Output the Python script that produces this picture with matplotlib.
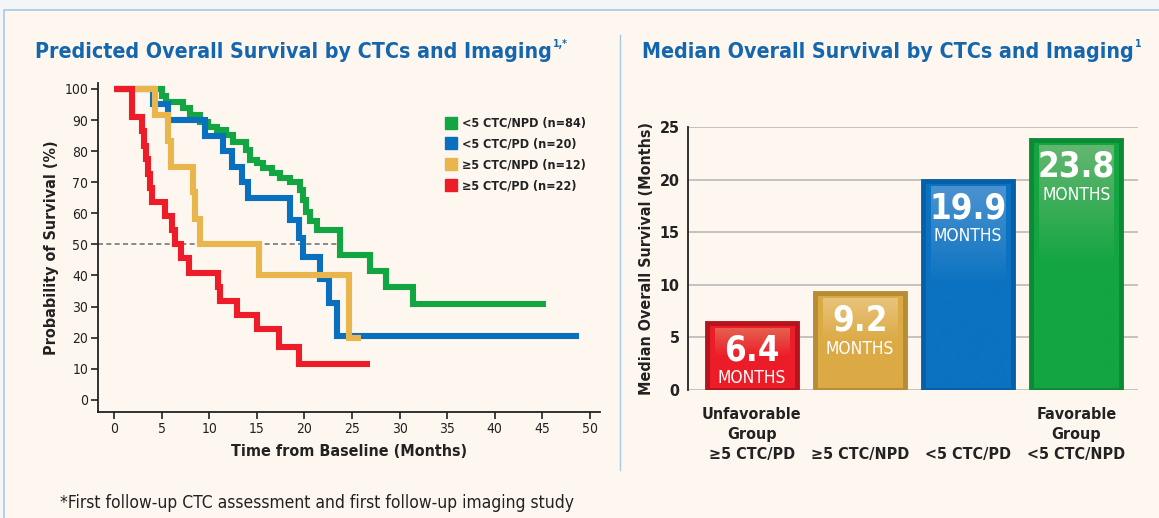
import matplotlib

matplotlib.use("Agg")

import matplotlib.pyplot as plt
import numpy as np
from matplotlib.lines import Line2D
from matplotlib.patches import Rectangle

# Kaplan-Meier steps: (time in months, survival %)
green_t = [0, 5.0, 5.5, 7.3, 8.0, 9.0, 9.9, 10.8, 11.8, 12.5, 13.9, 14.3, 15.0, 15.7, 16.6,
           17.4, 18.5, 19.5, 19.9, 20.2, 20.6, 21.3, 23.7, 26.9, 28.6, 31.4]
green_s = [100, 97.6, 95.9, 93.8, 91.6, 89.5, 87.9, 86.8, 85.2, 83.0, 80.4, 77.2, 76.2, 74.5, 73.0,
           71.4, 70.2, 67.5, 64.3, 60.5, 57.5, 54.7, 46.5, 41.5, 36.4, 30.8]
green_end = 45.4

blue_t = [0, 4.1, 5.7, 9.6, 11.5, 12.4, 13.4, 14.1, 18.5, 19.4, 19.9, 21.6, 22.6, 23.4]
blue_s = [100, 95, 90, 85, 80, 75, 70, 65, 58, 52, 46, 39, 31, 20.5]
blue_end = 48.8

yellow_t = [0, 4.3, 5.7, 6.0, 8.3, 8.5, 9.0, 15.2, 24.7]
yellow_s = [100, 91.7, 83.3, 75, 66.7, 58.3, 50, 40.2, 20]
yellow_end = 25.9

red_t = [0, 1.9, 2.9, 3.2, 3.4, 3.6, 3.8, 4.0, 5.4, 6.1, 6.4, 7.0, 7.9, 10.9, 11.1, 12.9,
         15.0, 17.3, 19.4]
red_s = [100, 91, 86.4, 81.8, 77.3, 72.7, 68.2, 63.6, 59.1, 54.5, 50, 45.5, 40.9, 36.4, 31.8,
         27.3, 22.7, 17.1, 11.4]
red_end = 26.9

km_labels = ["<5 CTC/NPD (n=84)", "<5 CTC/PD (n=20)", "\u22655 CTC/NPD (n=12)", "\u22655 CTC/PD (n=22)"]

# median overall survival bars
bar_groups = ["Unfavorable\nGroup\n\u22655 CTC/PD", "\u22655 CTC/NPD", "<5 CTC/PD",
              "Favorable\nGroup\n<5 CTC/NPD"]
bar_values = [6.4, 9.2, 19.9, 23.8]

GREEN = "#12a542"
BLUE = "#0a6fbd"
YELLOW = "#e8b64c"
RED = "#ec1c28"
TITLE_BLUE = "#1466ae"
BG = "#fdf7f0"

plt.rcParams["font.family"] = ["DejaVu Sans"]
plt.rcParams["font.stretch"] = "condensed"

W, H = 1159, 518
fig = plt.figure(figsize=(W / 100, H / 100), dpi=100)
fig.patch.set_facecolor("#f3f5f8")


def fx(px):
    return px / W


def fy(py):
    return 1 - py / H


# cream panel with a thin blue frame, and the divider between the two charts
fig.patches.append(Rectangle((fx(4), -0.1), 1.2, fy(10) + 0.1, transform=fig.transFigure,
                             facecolor=BG, edgecolor="#a8c9e6", linewidth=1.2, zorder=-5))
fig.add_artist(Line2D([fx(620), fx(620)], [fy(35), fy(470)], color="#a8c9e6", linewidth=1,
                      transform=fig.transFigure))

# ---- titles ----
renderer = fig.canvas.get_renderer()


def title_with_sup(x, y, main, sup):
    t = fig.text(fx(x), fy(y), main, color=TITLE_BLUE, fontsize=15.3, fontweight="bold",
                 va="baseline", ha="left")
    bb = t.get_window_extent(renderer)
    fig.text(bb.x1 / W + 0.001, fy(y) + 0.021, sup, color=TITLE_BLUE, fontsize=7.5,
             fontweight="bold", va="baseline", ha="left")


title_with_sup(35, 58, "Predicted Overall Survival by CTCs and Imaging", "1,*")
title_with_sup(642, 58, "Median Overall Survival by CTCs and Imaging", "1")

# ---- Kaplan-Meier chart ----
ax = fig.add_axes([fx(98), fy(412), fx(600) - fx(98), fy(83) - fy(412)])
ax.set_facecolor("none")
curves = [
    (green_t, green_s, green_end, GREEN),
    (blue_t, blue_s, blue_end, BLUE),
    (yellow_t, yellow_s, yellow_end, YELLOW),
    (red_t, red_s, red_end, RED),
]
ax.plot([-1.7, 23.6], [50, 50], color="#777777", linestyle=(0, (3, 2)), linewidth=1.2, zorder=1)
for i, (t, s, end, color) in enumerate(curves):
    ax.step(list(t) + [end], list(s) + [s[-1]], where="post", color=color, linewidth=4.4,
            solid_joinstyle="miter", solid_capstyle="butt", zorder=2 + i)

ax.set_xlim(-1.68, 51.05)
ax.set_ylim(-3.9, 101.9)
ax.set_xticks(range(0, 51, 5))
ax.set_yticks(range(0, 101, 10))
ax.tick_params(labelsize=10, colors="#222222", length=5, width=1.2, direction="out", pad=2)
for side in ("top", "right"):
    ax.spines[side].set_visible(False)
for side in ("left", "bottom"):
    ax.spines[side].set_linewidth(1.3)
    ax.spines[side].set_color("#222222")
ax.set_xlabel("Time from Baseline (Months)", fontsize=11.5, fontweight="bold", color="#222222",
              labelpad=6)
ax.set_ylabel("Probability of Survival (%)", fontsize=11.5, fontweight="bold", color="#222222",
              labelpad=4)

handles = [Line2D([], [], marker="s", linestyle="none", markersize=9, color=c)
           for c in (GREEN, BLUE, YELLOW, RED)]
ax.legend(handles, km_labels, loc="upper left", bbox_to_anchor=(0.683, 0.912), frameon=False,
          handlelength=0.8, handletextpad=0.5, labelspacing=0.62, borderaxespad=0,
          prop={"weight": "bold", "size": 9, "stretch": "condensed"}, labelcolor="#222222")

# ---- median survival bars ----
bx = fig.add_axes([fx(688), fy(390), fx(1138) - fx(688), fy(127) - fy(390)])
bx.set_facecolor("none")
pos = np.arange(len(bar_values))
bar_colors = [RED, "#dcaa45", "#0a72c0", GREEN]
edge_colors = ["#b5141d", "#b68c34", "#0760a7", "#0c8a36"]
light_colors = ["#e6604f", "#e8c37a", "#4a92d0", "#63b66f"]
width = 0.83
bars = bx.bar(pos, bar_values, width=width, color=bar_colors, edgecolor=edge_colors,
              linewidth=3.5, zorder=2)
for rect, light, base in zip(bars, light_colors, bar_colors):
    x0, w, h = rect.get_x(), rect.get_width(), rect.get_height()
    grad = np.linspace(0, 1, 100).reshape(-1, 1)
    cmap = matplotlib.colors.LinearSegmentedColormap.from_list("g", [base, base, light])
    im = bx.imshow(grad, extent=(x0 + 0.07, x0 + w - 0.07, 0.5, h - 0.5), origin="lower",
                   cmap=cmap, aspect="auto", zorder=3, interpolation="bicubic")
    im.set_clip_path(rect)
for p, v in zip(pos, bar_values):
    bx.text(p, v - 2.6, f"{v:.1f}", ha="center", va="center", color="white", fontsize=25,
            fontweight="bold", zorder=5)
    bx.text(p, v - 5.3, "MONTHS", ha="center", va="center", color="white", fontsize=12.5,
            zorder=5)

bx.set_xlim(-0.59, 3.57)
bx.set_ylim(0, 25)
bx.set_yticks(range(0, 26, 5))
bx.yaxis.grid(True, color="#b9b9b9", linewidth=1.2, zorder=0)
bx.set_axisbelow(True)
for side in ("top", "right", "bottom"):
    bx.spines[side].set_visible(False)
bx.spines["left"].set_linewidth(1.3)
bx.spines["left"].set_color("#222222")
bx.tick_params(axis="y", length=0, labelsize=11.5, colors="#222222", pad=6)
for lab in bx.get_yticklabels():
    lab.set_fontweight("bold")
bx.set_xticks(pos)
# bottom-align the group labels: pad the one-line labels up to three lines
n_lines = max(g.count("\n") for g in bar_groups) + 1
padded = ["\n" * (n_lines - 1 - g.count("\n")) + g for g in bar_groups]
bx.set_xticklabels(padded, fontsize=11.5, fontweight="bold", color="#222222", linespacing=1.45)
bx.tick_params(axis="x", length=0, pad=12)
bx.set_ylabel("Median Overall Survival (Months)", fontsize=11.5, fontweight="bold",
              color="#222222", labelpad=4)

fig.text(fx(60), fy(503), "*First follow-up CTC assessment and first follow-up imaging study",
         fontsize=12.5, color="#222222", va="center", ha="left")

fig.savefig("out.png", dpi=100, facecolor=fig.get_facecolor())
